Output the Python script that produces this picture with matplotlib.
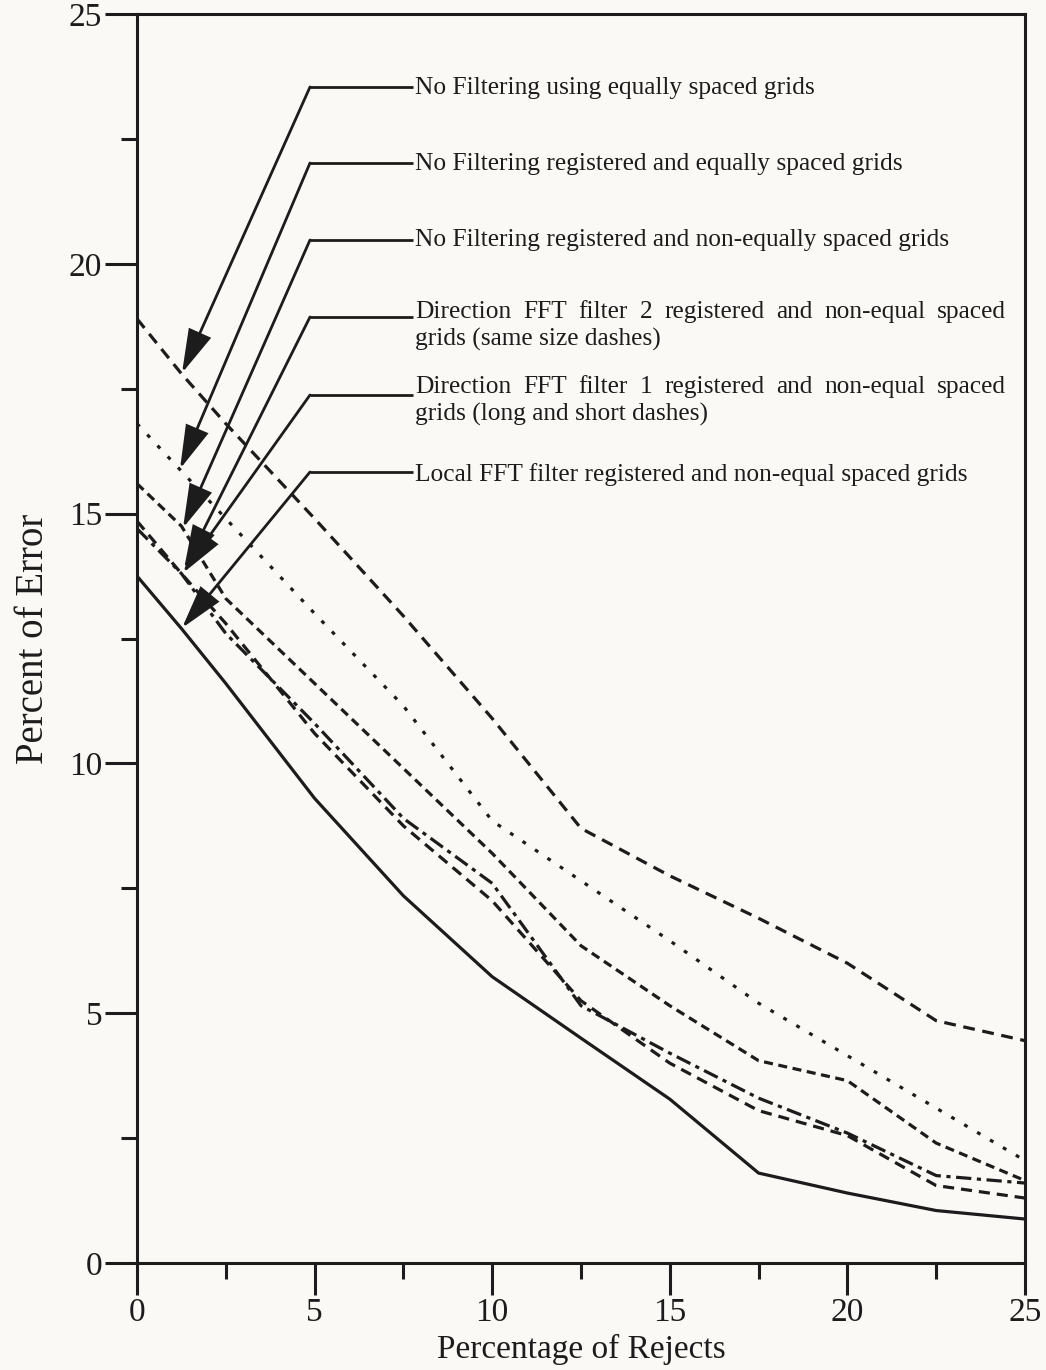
import matplotlib
matplotlib.use("Agg")
import matplotlib.pyplot as plt
from matplotlib.ticker import MultipleLocator

plt.rcParams['font.family'] = ['Liberation Serif', 'DejaVu Serif']
plt.rcParams['lines.scale_dashes'] = False

# ---------------- data ----------------
rejects = [0, 1.25, 2.5, 5, 7.5, 10, 12.5, 15, 17.5, 20, 22.5, 25]

no_filter_equal = [18.9, 17.8, 16.8, 14.9, 12.95, 10.9, 8.7, 7.75, 6.9, 6.0, 4.85, 4.45]
no_filter_reg_equal = [16.8, 15.85, 14.9, 13.0, 11.15, 8.85, 7.65, 6.45, 5.2, 4.15, 3.1, 2.05]
no_filter_reg_nonequal = [15.6, 14.75, 13.3, 11.6, 9.9, 8.2, 6.35, 5.15, 4.05, 3.65, 2.4, 1.65]
dir_fft_filter2 = [14.85, 13.8, 12.8, 10.6, 8.75, 7.25, 5.25, 4.0, 3.05, 2.55, 1.55, 1.3]
dir_fft_filter1 = [14.7, 13.8, 12.6, 10.8, 8.9, 7.6, 5.15, 4.2, 3.3, 2.6, 1.75, 1.6]
local_fft = [13.75, 12.7, 11.6, 9.3, 7.35, 5.73, 4.5, 3.28, 1.8, 1.4, 1.05, 0.88]

labels = [
    "No Filtering using equally spaced grids",
    "No Filtering registered and equally spaced grids",
    "No Filtering registered and non-equally spaced grids",
    ["Direction FFT filter 2 registered and non-equal spaced", "grids (same size dashes)"],
    ["Direction FFT filter 1 registered and non-equal spaced", "grids (long and short dashes)"],
    "Local FFT filter registered and non-equal spaced grids",
]
xlabel = "Percentage of Rejects"
ylabel = "Percent of Error"

# ---------------- figure ----------------
W, H = 1046, 1370
BG = '#faf9f5'
INK = '#1c1c1c'
fig = plt.figure(figsize=(W / 100, H / 100), dpi=100, facecolor=BG)
L, R, T, B = 137, 1025, 14, 1263
ax = fig.add_axes([L / W, 1 - B / H, (R - L) / W, (B - T) / H])
ax.set_facecolor(BG)
ax.set_xlim(0, 25)
ax.set_ylim(0, 25)


def px2x(px):
    return (px - L) / (R - L) * 25


def py2y(py):
    return (B - py) / (B - T) * 25


lw = 2.3
series = [
    (no_filter_equal, (0, (8.5, 5.5))),
    (no_filter_reg_equal, (0, (2.8, 8.0))),
    (no_filter_reg_nonequal, (0, (6.5, 4.0))),
    (dir_fft_filter2, (0, (8.0, 5.0))),
    (dir_fft_filter1, (0, (11.0, 4.0, 3.0, 4.0))),
    (local_fft, 'solid'),
]
for vals, ls in series:
    ax.plot(rejects, vals, color=INK, lw=lw, linestyle=ls, solid_capstyle='butt',
            dash_capstyle='butt', zorder=3)

# axes styling
for s in ax.spines.values():
    s.set_linewidth(2.2)
    s.set_color(INK)
ax.xaxis.set_major_locator(MultipleLocator(5))
ax.xaxis.set_minor_locator(MultipleLocator(2.5))
ax.yaxis.set_major_locator(MultipleLocator(5))
ax.yaxis.set_minor_locator(MultipleLocator(2.5))
ax.tick_params(which='major', direction='out', length=23, width=2.2, color=INK,
               labelsize=24, labelcolor=INK, pad=2)
ax.tick_params(which='minor', direction='out', length=11.5, width=2.2, color=INK)
ax.set_xlabel(xlabel, fontsize=24, color=INK, labelpad=4)
ax.set_ylabel(ylabel, fontsize=28, color=INK, labelpad=12)

# ---------------- annotations ----------------
corner_px = 310
hend_px = 413
text_px = 415
just_right_px = 1006
tips = [(182, 373), (180, 469), (183, 528), (184, 569), (183, 573), (182, 628)]
leader_y = [87, 163, 240, 317, 395, 472]
baselines = [[94], [170], [246], [318, 346], [393, 421], [481]]
fs = 18.3

fig.canvas.draw()
renderer = fig.canvas.get_renderer()

for lab, tip, ly, bls in zip(labels, tips, leader_y, baselines):
    ax.plot([px2x(corner_px), px2x(hend_px)], [py2y(ly), py2y(ly)], color=INK, lw=2.0,
            solid_capstyle='butt', zorder=4)
    ax.annotate('', xy=(px2x(tip[0]), py2y(tip[1])), xytext=(px2x(corner_px), py2y(ly)),
                arrowprops=dict(arrowstyle='-|>,head_length=2.7,head_width=0.75',
                                mutation_scale=10, lw=2.0, color=INK,
                                shrinkA=0, shrinkB=0, joinstyle='miter'),
                zorder=4)
    if isinstance(lab, str):
        ax.text(px2x(text_px), py2y(bls[0]), lab, fontsize=fs, color=INK,
                ha='left', va='baseline')
    else:
        # first line justified between text_px and just_right_px
        words = lab[0].split(' ')
        widths = []
        for wd in words:
            t = ax.text(0, 0, wd, fontsize=fs)
            bb = t.get_window_extent(renderer=renderer)
            widths.append(bb.width)
            t.remove()
        total = just_right_px - text_px
        gap = (total - sum(widths)) / (len(words) - 1)
        xcur = text_px
        for wd, wdt in zip(words, widths):
            ax.text(px2x(xcur), py2y(bls[0]), wd, fontsize=fs, color=INK,
                    ha='left', va='baseline')
            xcur += wdt + gap
        ax.text(px2x(text_px), py2y(bls[1]), lab[1], fontsize=fs, color=INK,
                ha='left', va='baseline')

fig.savefig('out.png', dpi=100, facecolor=BG)
